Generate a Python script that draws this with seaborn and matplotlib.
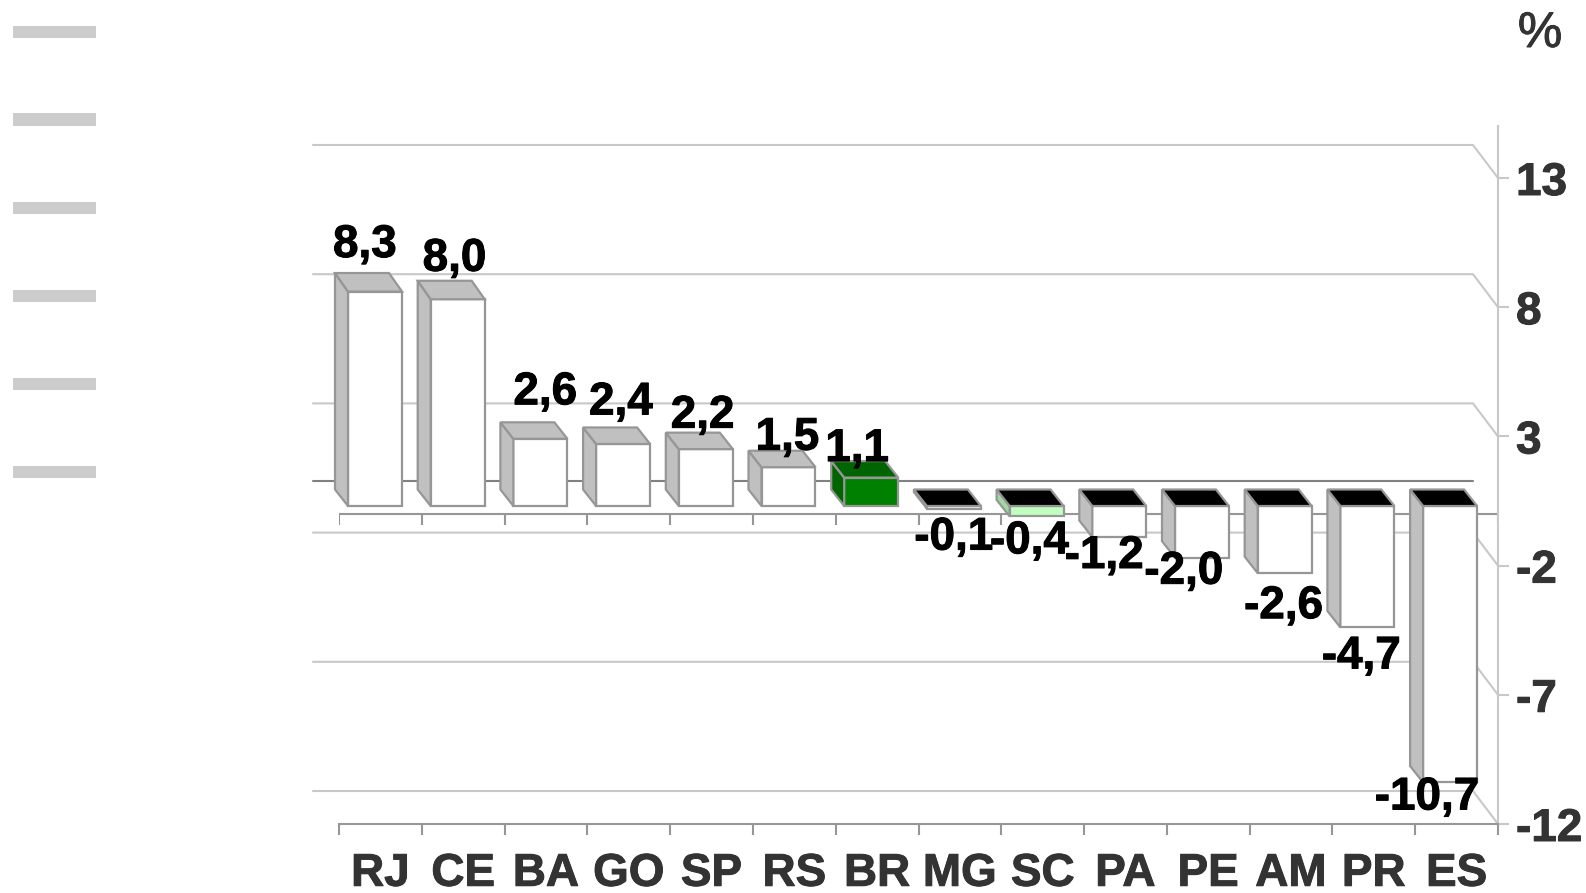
import matplotlib
matplotlib.use('Agg')
import numpy as np
import pandas as pd
import matplotlib.pyplot as plt
import matplotlib.patheffects as pe
from matplotlib.patches import Polygon, Rectangle
import seaborn as sns

states = ['RJ', 'CE', 'BA', 'GO', 'SP', 'RS', 'BR', 'MG', 'SC', 'PA', 'PE', 'AM', 'PR', 'ES']
values = [8.3, 8.0, 2.6, 2.4, 2.2, 1.5, 1.1, -0.1, -0.4, -1.2, -2.0, -2.6, -4.7, -10.7]
value_labels = ['8,3', '8,0', '2,6', '2,4', '2,2', '1,5', '1,1',
                '-0,1', '-0,4', '-1,2', '-2,0', '-2,6', '-4,7', '-10,7']
yticks = [13, 8, 3, -2, -7, -12]

front_colors = {s: 'white' for s in states}
front_colors['BR'] = '#008000'
front_colors['SC'] = '#c0ffc0'

# label nudges in pixels, relative to the bar end
label_dx = [-10, -3, 5, -2, -3, -1, -14, 0, -7, -15, -18, -1, -6, -23]
label_dy = [28, 22, 30, 25, 17, 13, 12, 29, 25, 19, 14, 33, 29, 15]

W, H = 1586, 893
EDGE = '#969696'
GRID = '#c8c8c8'
TEXT = '#333333'
PX_Y = 25.84      # pixels per % point
SLOT = 82.79      # pixels per category

sns.set_theme(style='white')
plt.rcParams['font.family'] = ['Liberation Sans', 'DejaVu Sans']

fig = plt.figure(figsize=(W / 100, H / 100), dpi=100)
heavy = [pe.withStroke(linewidth=0.7, foreground=TEXT)]
heavy_k = [pe.withStroke(linewidth=0.7, foreground='black')]

# frame axes: right value axis and the lower category axis
left, right, bottom, top = 339, 1498, 824, 126
ax = fig.add_axes([left / W, 1 - bottom / H, (right - left) / W, (bottom - top) / H])
ax.set_xlim(0, 14)
ax.set_ylim(-12, -12 + (bottom - top) / PX_Y)
ax.patch.set_alpha(0)
for s in ['top', 'left']:
    ax.spines[s].set_visible(False)
ax.spines['right'].set_color(GRID)
ax.spines['right'].set_linewidth(1.5)
ax.spines['bottom'].set_color(EDGE)
ax.spines['bottom'].set_linewidth(1.5)
ax.yaxis.tick_right()
ax.set_yticks(yticks)
ax.set_yticklabels([str(t) for t in yticks], fontsize=33, fontweight='bold', color=TEXT,
                   path_effects=heavy)
ax.tick_params(axis='y', length=8, width=1.5, color=GRID, pad=5, right=True)
ax.set_xticks(np.arange(14) + 0.5)
ax.set_xticklabels(states, fontsize=33, fontweight='bold', color=TEXT, path_effects=heavy)
ax.set_xticks(np.arange(15), minor=True)
ax.tick_params(axis='x', which='major', length=0, pad=20, bottom=True)
ax.tick_params(axis='x', which='minor', length=8, width=1.5, color=EDGE, bottom=True)

# back wall, set back from the front plane
back_dx = 25 / SLOT
back_dy = 33 / PX_Y
for t in yticks:
    ax.plot([-26 / SLOT, 14 - back_dx, 14], [t + back_dy, t + back_dy, t], color=GRID, lw=1.5,
            clip_on=False, zorder=1)
ax.plot([-26 / SLOT, 14 - back_dx], [back_dy, back_dy], color='#808080', lw=1.5, clip_on=False, zorder=1)

# zero category axis with its ticks
ax.axhline(0, color=EDGE, lw=1.5, zorder=1)
ax.vlines(np.arange(15), -11 / PX_Y, 0, color=EDGE, lw=1.5, zorder=1)

# bars axes, same scales in pixels but zero sits 8 px above the axis line
ax_bars = fig.add_axes([0, 0, 1, 1])
df = pd.DataFrame({'state': states, 'value': values})
sns.barplot(data=df, x='state', y='value', hue='state', order=states, palette=front_colors,
            width=54 / 82.7, dodge=False, legend=False, saturation=1,
            edgecolor=EDGE, linewidth=1.6, ax=ax_bars, zorder=3)
ax_bars.set_xlim(-375 / 82.7, (W - 375) / 82.7)
ax_bars.set_ylim((506 - H) / PX_Y, 506 / PX_Y)
ax_bars.axis('off')

dx = 13 / 82.7
for state, v, bar, lab, nx, ny in zip(states, values, ax_bars.patches, value_labels, label_dx, label_dy):
    xl = bar.get_x()
    xr = xl + bar.get_width()
    hi = max(v, 0)
    lo = min(v, 0)
    # the two tall bars have a slightly deeper cap in the original
    dy = (18.5 if v > 5 else 16.5) / PX_Y
    low_dy = 16.5 / PX_Y
    side = '#c0c0c0'
    cap = '#c0c0c0' if v > 0 else 'black'
    if state == 'BR':
        side = cap = '#006400'
    elif state == 'SC':
        side = '#a0d8a0'
    ax_bars.add_patch(Polygon([(xl - dx, hi + dy), (xl, hi), (xl, lo), (xl - dx, lo + low_dy)],
                              facecolor=side, edgecolor=EDGE, lw=1.6, zorder=3))
    ax_bars.add_patch(Polygon([(xl - dx, hi + dy), (xr - dx, hi + dy), (xr, hi), (xl, hi)],
                              facecolor=cap, edgecolor=EDGE, lw=1.6, zorder=3))
    cx = (xl + xr) / 2 + nx / 82.7
    if v > 0:
        cy = v + dy + ny / PX_Y
    else:
        cy = v - ny / PX_Y
    ax_bars.text(cx, cy, lab, ha='center', va='center', fontsize=33, fontweight='bold',
                 color='black', zorder=5, path_effects=heavy_k)

fig.text(1540 / W, 1 - 34 / H, '%', ha='center', va='center', fontsize=36, color=TEXT,
         path_effects=heavy)

# blanked out legend rows on the left
for yc in [32, 119.5, 208, 296, 384, 472]:
    fig.add_artist(Rectangle((13 / W, 1 - (yc + 6) / H), 83 / W, 12 / H, transform=fig.transFigure,
                             facecolor='#cccccc', edgecolor='none'))

fig.savefig('out.png', dpi=100)
